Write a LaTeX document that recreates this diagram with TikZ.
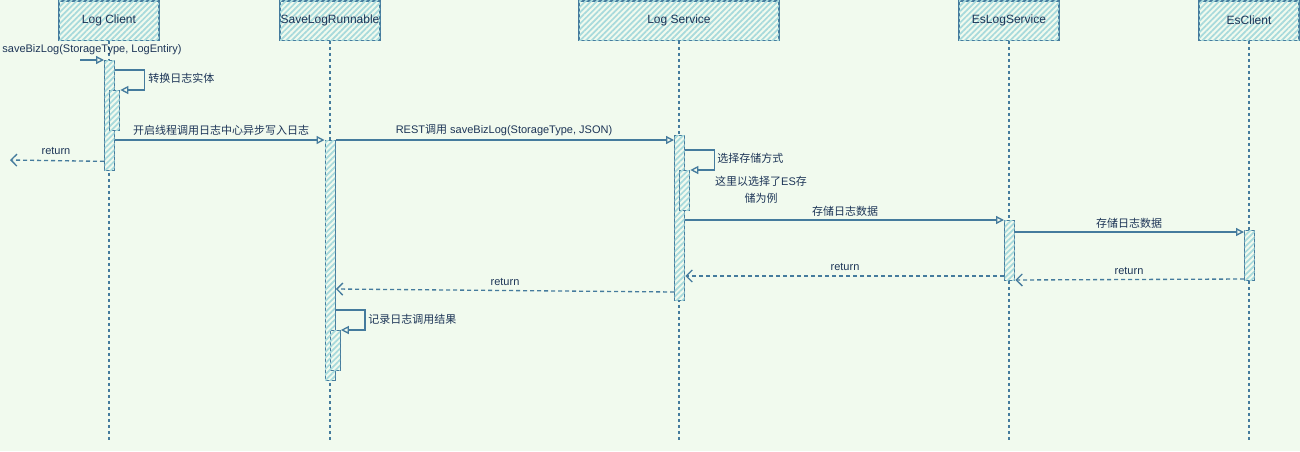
\documentclass[tikz,border=0pt]{standalone}
\usepackage{fontspec}
\setmainfont{Liberation Sans}
\newfontfamily\cjk{Noto Sans CJK SC}
\usetikzlibrary{arrows.meta,patterns.meta,calc}
\definecolor{bgc}{HTML}{F1FAEE}
\definecolor{stk}{HTML}{457B9D}
\definecolor{fil}{HTML}{A8DADC}
\definecolor{txt}{HTML}{1D3557}
\begin{document}
\begin{tikzpicture}[x=0.75pt,y=-0.75pt,
  hatch/.style={fill=bgc, postaction={pattern={Lines[angle=45,distance=3pt,line width=1.3pt]}, pattern color=fil}},
  hdr/.style={draw=stk, line width=1pt, hatch, minimum width=75pt, minimum height=29.5pt, inner sep=0pt, text=txt, font=\fontsize{9}{11}\selectfont},
  actbox/.style={draw=stk, line width=1pt, hatch, minimum width=7.5pt, inner sep=0pt, anchor=north west},
  lifeline/.style={draw=stk, line width=0.8pt, dash pattern=on 2.25pt off 2.25pt},
  call/.style={draw=stk, line width=1pt, -{Triangle[open,length=6pt,width=6pt]}},
  ret/.style={draw=stk, line width=1pt, dash pattern=on 3pt off 2.25pt, -{Straight Barb[length=4.5pt,width=9pt]}},
  lbl/.style={text=txt, font=\fontsize{8.25}{10}\selectfont, inner sep=0pt}]
\useasboundingbox[fill=bgc] (0,0) rectangle (1300,451);
% headers
\node[hdr] (hLC) at (109,20.5) {Log Client};
\node[hdr] (hSL) at (330,20.5) {SaveLogRunnable};
\node[hdr, minimum width=150pt] (hLS) at (679,20.5) {Log Service};
\node[hdr] (hES) at (1009,20.5) {EsLogService};
\node[hdr] (hEC) at (1249,20.5) {EsClient};
% lifelines
\coordinate (bot) at (0,440);
\foreach \h in {hLC,hSL,hLS,hES,hEC}{\draw[lifeline] (\h.south) -- (\h.south |- bot);}
% activations
\node[actbox, minimum height=82.5pt] (aLC) at (104,60) {};
\node[actbox, minimum height=30pt] (aLC2) at (109,90) {};
\node[actbox, minimum height=180pt] (aSL) at (324.5,140) {};
\node[actbox, minimum height=30pt] (aSL2) at (329.5,330) {};
\node[actbox, minimum height=123.75pt] (aLS) at (674,135) {};
\node[actbox, minimum height=30pt] (aLS2) at (679,170) {};
\node[actbox, minimum height=45pt] (aES) at (1004,220) {};
\node[actbox, minimum height=37.5pt] (aEC) at (1244,230) {};
% incoming call
\coordinate (cIn) at (80,60);
\draw[call] (cIn) -- (aLC.north west);
\node[lbl] (tIn) at (92,50) {saveBizLog(StorageType, LogEntiry)};
% self call LC
\draw[call] ([yshift=-7.5pt]aLC.north east) -- ++(29,0) |- (aLC2.north east);
\node[lbl, anchor=west] (tLC) at (148,78) {\cjk 转换日志实体};
% LC -> SL
\draw[call] (aLC.east |- aSL.north) -- (aSL.north west);
\node[lbl] (tLCSL) at (221,130) {\cjk 开启线程调用日志中心异步写入日志};
% return LC
\coordinate (cOut) at (10,160);
\draw[ret] ([yshift=7.5pt]aLC.south west) -- (cOut);
\node[lbl] (tRet1) at (56,151) {return};
% REST
\draw[call] (aSL.north east) -- (aLS.west |- aSL.north);
\node[lbl] (tREST) at (504,130) {REST{\cjk 调用} saveBizLog(StorageType, JSON)};
% self call LS
\draw[call] ([yshift=-11.25pt]aLS.north east) -- ++(29,0) |- (aLS2.north east);
\node[lbl, anchor=west] (tLS) at (717,158) {\cjk 选择存储方式};
\node[lbl, align=center] (tLSn) at (761,190) {{\cjk 这里以选择了}ES{\cjk 存}\\[3pt]{\cjk 储为例}};
% LS -> ES
\draw[call] (aLS.east |- aES.north) -- (aES.north west);
\node[lbl] (tLSES) at (845,211) {\cjk 存储日志数据};
% ES -> EC
\draw[call] (aES.east |- 0,232) -- (aEC.west |- 0,232);
\node[lbl] (tESEC) at (1129,223) {\cjk 存储日志数据};
% returns
\draw[ret] (aEC.west |- 0,279) -- (aES.east |- 0,280);
\node[lbl] (tRet2) at (1129,271) {return};
\draw[ret] (aES.west |- 0,276) -- (aLS.east |- 0,276);
\node[lbl] (tRet3) at (845,267) {return};
\draw[ret] (aLS.west |- 0,292) -- (aSL.east |- 0,289);
\node[lbl] (tRet4) at (505,282) {return};
% self call SL
\coordinate (sSL) at (0,310);
\draw[call] (aSL.east |- sSL) -- ++(29,0) |- (aSL2.north east);
\node[lbl, anchor=west] (tSL) at (368,319) {\cjk 记录日志调用结果};
\end{tikzpicture}
\end{document}
